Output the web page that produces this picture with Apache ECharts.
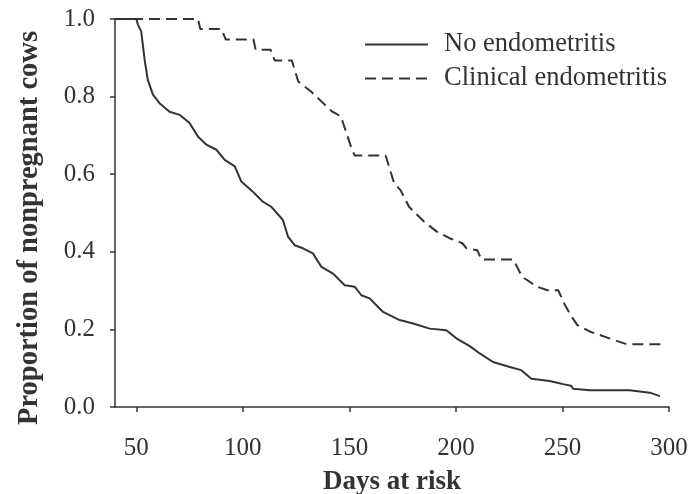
<!DOCTYPE html>
<html style="height: 100%">
<head>
    <meta charset="utf-8">
</head>
<body style="height: 100%; margin: 0; background: #fff">
    <div id="container" style="width: 700px; height: 494px"></div>
    <script src="https://cdn.jsdelivr.net/npm/echarts@6/dist/echarts.min.js"></script>
    <script type="text/javascript">

// No endometritis (solid line)
var noEndoDays = [40, 50, 50.8, 52.3, 53.9, 55.4, 57.8, 60.9, 65.6, 70.3, 75, 78.9, 82.9, 87.6, 91.5, 96.2, 99.3,
    104.7, 109.4, 113.4, 118.8, 121.2, 124.3, 128.2, 132.9, 136.9, 142.3, 147.8, 152.5, 155.6, 159.5, 165.8,
    173.6, 179.9, 187.7, 195.5, 200.2, 206.5, 211.2, 217.4, 225.3, 230.7, 235.4, 244, 250.3, 254, 255, 262.8,
    281.6, 291, 295.7];
var noEndoProp = [1.0, 1.0, 0.985, 0.968, 0.895, 0.843, 0.805, 0.783, 0.761, 0.753, 0.732, 0.697, 0.676, 0.663, 0.637, 0.620, 0.581,
    0.555, 0.529, 0.516, 0.482, 0.439, 0.417, 0.409, 0.396, 0.361, 0.344, 0.314, 0.310, 0.288, 0.280, 0.245,
    0.224, 0.215, 0.202, 0.198, 0.177, 0.157, 0.138, 0.116, 0.103, 0.095, 0.073, 0.067, 0.059, 0.055, 0.047, 0.043,
    0.043, 0.037, 0.028];

// Clinical endometritis (dashed line)
var clinDays = [40, 79, 80, 90, 92, 105, 106, 113, 115, 123, 126, 132, 137, 142, 146, 151, 152.5, 167, 171, 174,
    178, 185, 191, 197, 203, 205, 210, 212, 227, 231, 238, 243, 248, 251, 254, 257, 263, 272, 280, 296];
var clinProp = [1.0, 1.0, 0.974, 0.974, 0.947, 0.947, 0.921, 0.921, 0.893, 0.893, 0.839, 0.813, 0.787, 0.761, 0.749, 0.667, 0.648, 0.648, 0.577, 0.559,
    0.516, 0.478, 0.452, 0.435, 0.422, 0.409, 0.404, 0.380, 0.380, 0.336, 0.310, 0.301, 0.301, 0.265, 0.235, 0.211, 0.194, 0.177, 0.162, 0.162];

var xTicks = [50, 100, 150, 200, 250, 300];
var seriesNames = ['No endometritis', 'Clinical endometritis'];

function pairs(xs, ys) {
    var out = [];
    for (var i = 0; i < xs.length; i++) out.push([xs[i], ys[i]]);
    return out;
}

var ink = '#333';
var serif = 'Liberation Serif';

var myChart = echarts.init(document.getElementById('container'));
var option = {
    animation: false,
    backgroundColor: '#fff',
    textStyle: { fontFamily: serif },
    grid: { left: 115, right: 31, top: 19, bottom: 87, outerBoundsMode: 'none', containLabel: false },
    legend: {
        orient: 'vertical',
        left: 359,
        top: 26,
        itemWidth: 63,
        itemHeight: 14,
        itemGap: 7,
        itemStyle: { opacity: 0 },
        textStyle: { fontFamily: serif, fontSize: 26.5, color: ink, padding: [0, 0, 0, 11] },
        data: seriesNames
    },
    xAxis: {
        type: 'value',
        min: 40,
        max: 300,
        name: 'Days at risk',
        nameLocation: 'middle',
        nameGap: 62,
        nameTextStyle: { fontFamily: serif, fontSize: 27, fontWeight: 'bold', color: ink },
        splitLine: { show: false },
        axisLine: { lineStyle: { color: ink, width: 1.5 } },
        axisTick: { inside: false, length: 5, customValues: xTicks, lineStyle: { color: ink, width: 1.5 } },
        axisLabel: { customValues: xTicks, margin: 29, fontFamily: serif, fontSize: 25, color: ink }
    },
    yAxis: {
        type: 'value',
        min: 0,
        max: 1,
        interval: 0.2,
        name: 'Proportion of nonpregnant cows',
        nameLocation: 'middle',
        nameGap: 71,
        nameTextStyle: { fontFamily: serif, fontSize: 28.5, fontWeight: 'bold', color: ink, padding: [0, 30, 0, 0] },
        splitLine: { show: false },
        axisLine: { show: true, lineStyle: { color: ink, width: 1.5 } },
        axisTick: { show: true, inside: false, length: 5, lineStyle: { color: ink, width: 1.5 } },
        axisLabel: {
            margin: 20, fontFamily: serif, fontSize: 25, color: ink,
            formatter: function (v) { return v.toFixed(1); }
        }
    },
    series: [{
        name: seriesNames[0],
        type: 'line',
        symbol: 'none',
        data: pairs(noEndoDays, noEndoProp),
        lineStyle: { color: ink, width: 2 },
        itemStyle: { color: ink }
    }, {
        name: seriesNames[1],
        type: 'line',
        symbol: 'none',
        data: pairs(clinDays, clinProp),
        lineStyle: { color: ink, width: 2, type: [11, 6] },
        itemStyle: { color: ink }
    }]
};
myChart.setOption(option);
    </script>
</body>
</html>
